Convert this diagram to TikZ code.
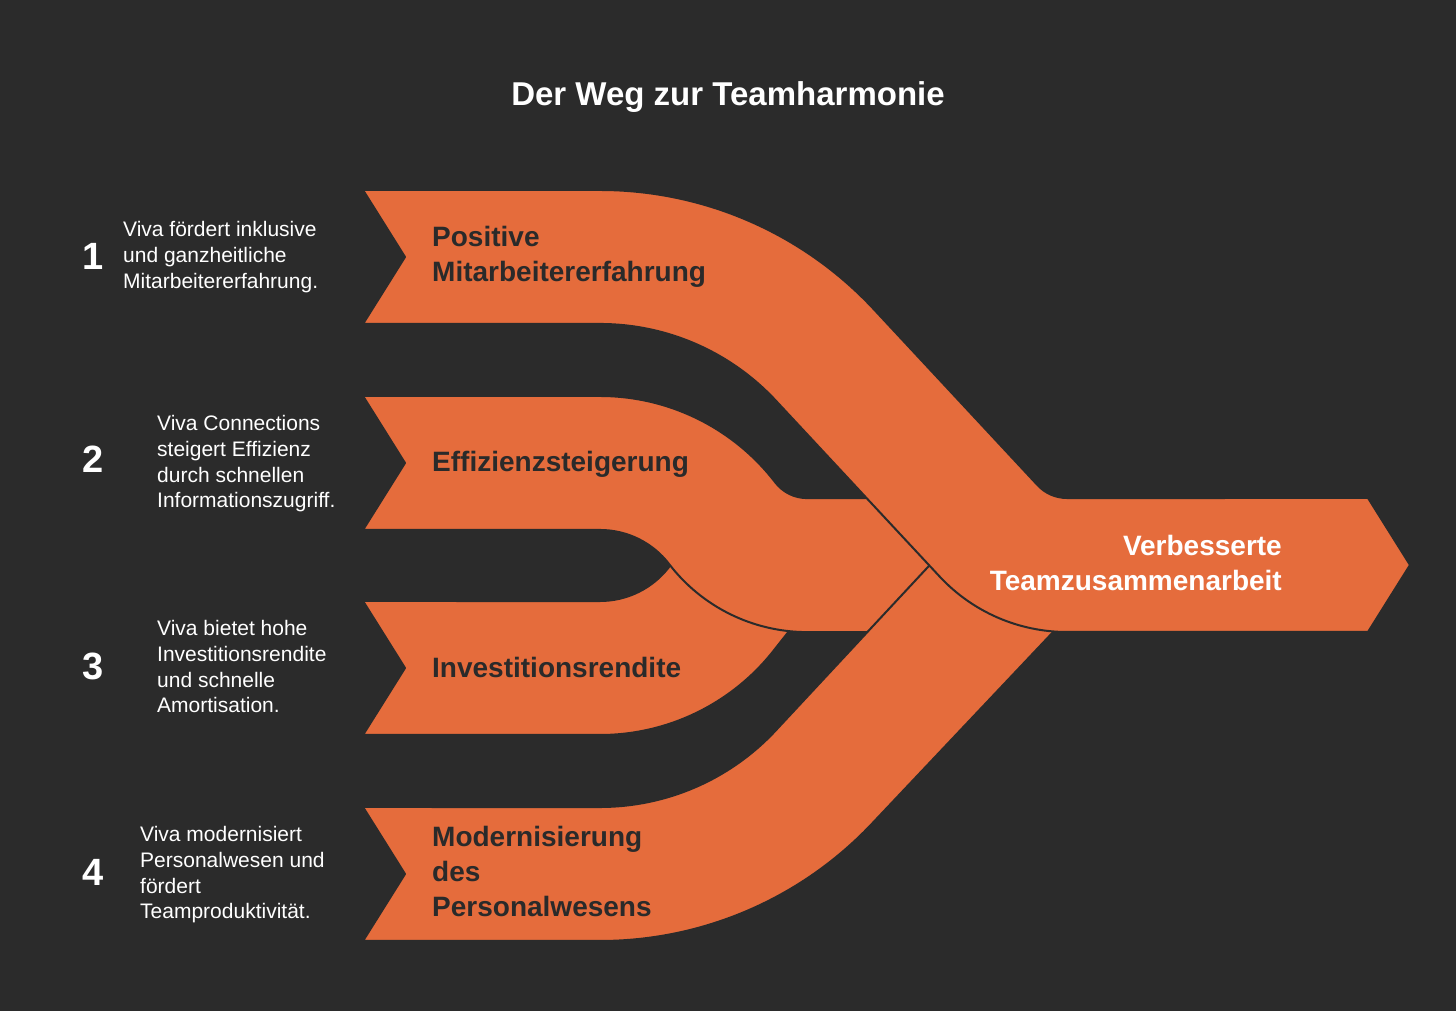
\documentclass[tikz,border=0pt]{standalone}
\usepackage{fontspec}
\setmainfont{Liberation Sans}
\definecolor{bgdark}{HTML}{2B2B2B}
\definecolor{ribbonorange}{HTML}{E56C3C}
\definecolor{textdark}{HTML}{2A2A2A}

\begin{document}
\begin{tikzpicture}[x=1pt, y=1pt,
    ribbon/.style={fill=ribbonorange, draw=bgdark, line width=2pt, line join=round},
    heading/.style={text=white, inner sep=0pt, font=\bfseries\fontsize{33}{40}\selectfont},
    stepnum/.style={text=white, inner sep=0pt, font=\bfseries\fontsize{38}{44}\selectfont},
    desc/.style={text=white, align=left, anchor=base west, inner sep=0pt, font=\fontsize{21}{25.7}\selectfont},
    ribbontext/.style={text=textdark, align=left, anchor=base west, inner sep=0pt, font=\bfseries\fontsize{28}{35}\selectfont}]
        \fill[bgdark] (0,0) rectangle (1456,1011);
        \useasboundingbox (0,0) rectangle (1456,1011);

        % ribbons, lowest first
        \draw[ribbon] (363,276) -- (600,276) arc[start angle=-90, end angle=-37.5, radius=221]
            -- (805,400) -- (960,400) -- (960,512.1) -- (807.1,512.1)
            arc[start angle=-270, end angle=-217.5, radius=174] arc[start angle=-37.5, end angle=-90, radius=87]
            -- (363,410) -- (405,343) -- cycle;
        \draw[ribbon] (363,615) -- (600,615) arc[start angle=90, end angle=37.5, radius=221]
            arc[start angle=217.5, end angle=270, radius=40] -- (960,512.9) -- (960,378.9) -- (807.1,378.9)
            arc[start angle=270, end angle=217.5, radius=174] arc[start angle=37.5, end angle=90, radius=87]
            -- (363,481) -- (405,548) -- cycle;
        \draw[ribbon] (363,70) -- (600,70) arc[start angle=-90, end angle=-43, radius=374]
            -- (1059.6,385.8) -- (1100,386) -- (1100,512) -- (1067,512)
            arc[start angle=-270, end angle=-223, radius=174] -- (775.5,280.3) arc[start angle=-43, end angle=-90, radius=240]
            -- (363,204) -- (405,137) -- cycle;
        \draw[ribbon] (363,821) -- (600,821) arc[start angle=90, end angle=43, radius=374]
            -- (1037.7,525.7) arc[start angle=223, end angle=270, radius=40] -- (1368,513) -- (1410,446) -- (1368,379) -- (1067,379)
            arc[start angle=270, end angle=223, radius=174] -- (775.5,610.7) arc[start angle=43, end angle=90, radius=240]
            -- (363,687) -- (405,754) -- cycle;

        \node[heading, anchor=base] (title) at (728,905) {Der Weg zur Teamharmonie};

        \node[stepnum] (n1) at (93,755) {1};
        \node[stepnum] (n2) at (93,552) {2};
        \node[stepnum] (n3) at (93,345) {3};
        \node[stepnum] (n4) at (93,139) {4};

        % base anchor = last line
        \node[desc] (d1) at (123,722.6) {Viva fördert inklusive\\und ganzheitliche\\Mitarbeitererfahrung.};
        \node[desc] (d2) at (157,503.2) {Viva Connections\\steigert Effizienz\\durch schnellen\\Informationszugriff.};
        \node[desc] (d3) at (157,298.2) {Viva bietet hohe\\Investitionsrendite\\und schnelle\\Amortisation.};
        \node[desc] (d4) at (140,92.2) {Viva modernisiert\\Personalwesen und\\fördert\\Teamproduktivität.};

        \node[ribbontext] (l1) at (432,729) {Positive\\Mitarbeitererfahrung};
        \node[ribbontext] (l2) at (432,539) {Effizienzsteigerung};
        \node[ribbontext] (l3) at (432,333.5) {Investitionsrendite};
        \node[ribbontext] (l4) at (432,94) {Modernisierung\\des\\Personalwesens};
        \node[ribbontext, text=white, align=right, anchor=base east] (out) at (1282,420) {Verbesserte\\Teamzusammenarbeit};
\end{tikzpicture}
\end{document}
